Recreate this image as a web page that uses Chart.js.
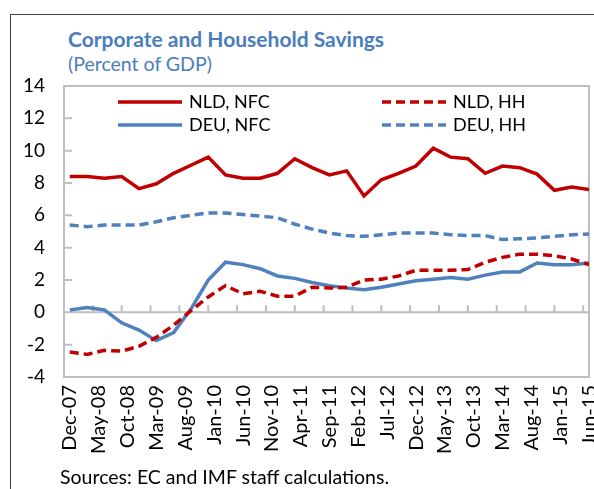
<!DOCTYPE html>
<html lang="en">
<head>
  <meta charset="UTF-8">
  <title>Corporate and Household Savings</title>
  <script src="https://cdn.jsdelivr.net/npm/chart.js"></script>
  <style>
    body { margin: 0; width: 594px; height: 489px; overflow: hidden; background: #fff; font-family: Lato, sans-serif; }
    .frame { position: absolute; left: 10px; top: 14px; width: 620px; height: 520px; border-left: 1px solid #404040; border-top: 1px solid #404040; }
    .title { position: absolute; left: 68px; top: 26px; font-size: 21px; font-weight: bold; color: #4a7ebb; }
    .subtitle { position: absolute; left: 68px; top: 52px; font-size: 19.5px; color: #4a7ebb; }
    .source { position: absolute; left: 60px; top: 465px; font-size: 19.5px; color: #000; }
    #wrap { position: absolute; left: 0; top: 0; width: 594px; height: 489px; }
  </style>
</head>
<body>
  <div class="frame"></div>
  <div class="title">Corporate and Household Savings</div>
  <div class="subtitle">(Percent of GDP)</div>
  <div id="wrap"><canvas id="savings"></canvas></div>
  <div class="source">Sources: EC and IMF staff calculations.</div>
  <script>
    // quarterly observations (end of quarter)
    const quarters = ['Dec-07', 'Mar-08', 'Jun-08', 'Sep-08', 'Dec-08', 'Mar-09', 'Jun-09', 'Sep-09',
      'Dec-09', 'Mar-10', 'Jun-10', 'Sep-10', 'Dec-10', 'Mar-11', 'Jun-11', 'Sep-11', 'Dec-11',
      'Mar-12', 'Jun-12', 'Sep-12', 'Dec-12', 'Mar-13', 'Jun-13', 'Sep-13', 'Dec-13', 'Mar-14',
      'Jun-14', 'Sep-14', 'Dec-14', 'Mar-15', 'Jun-15'];

    const nldNfc = [8.4, 8.4, 8.3, 8.4, 7.65, 7.95, 8.6, 9.1, 9.6, 8.5, 8.3, 8.3, 8.6, 9.5, 8.95, 8.5,
      8.75, 7.2, 8.2, 8.6, 9.05, 10.15, 9.6, 9.5, 8.6, 9.05, 8.95, 8.55, 7.55, 7.75, 7.6];
    const nldHh = [-2.45, -2.6, -2.35, -2.4, -2.1, -1.55, -0.8, 0.1, 0.95, 1.65, 1.15, 1.3, 1.0, 1.0,
      1.55, 1.5, 1.55, 2.0, 2.05, 2.25, 2.6, 2.6, 2.6, 2.65, 3.1, 3.4, 3.6, 3.6, 3.5, 3.3, 2.95];
    const deuNfc = [0.15, 0.3, 0.15, -0.65, -1.1, -1.75, -1.25, 0.2, 2.0, 3.1, 2.95, 2.7, 2.25, 2.1,
      1.85, 1.65, 1.5, 1.4, 1.55, 1.75, 1.95, 2.05, 2.15, 2.05, 2.3, 2.5, 2.5, 3.05, 2.95, 2.95, 3.05];
    const deuHh = [5.4, 5.3, 5.4, 5.4, 5.4, 5.6, 5.85, 6.0, 6.15, 6.15, 6.05, 5.95, 5.85, 5.45, 5.15,
      4.9, 4.75, 4.7, 4.8, 4.9, 4.9, 4.9, 4.8, 4.75, 4.75, 4.5, 4.55, 4.6, 4.7, 4.8, 4.85];

    const tickLabels = ['Dec-07', 'May-08', 'Oct-08', 'Mar-09', 'Aug-09', 'Jan-10', 'Jun-10', 'Nov-10',
      'Apr-11', 'Sep-11', 'Feb-12', 'Jul-12', 'Dec-12', 'May-13', 'Oct-13', 'Mar-14', 'Aug-14',
      'Jan-15', 'Jun-15'];

    const monthNames = ['Jan', 'Feb', 'Mar', 'Apr', 'May', 'Jun', 'Jul', 'Aug', 'Sep', 'Oct', 'Nov', 'Dec'];
    // months counted from Dec-07
    function monthIndex(label) {
      const parts = label.split('-');
      return (Number(parts[1]) - 7) * 12 + monthNames.indexOf(parts[0]) - 11;
    }
    // data sits at the end of its month
    function series(vals) {
      return quarters.map((q, i) => ({ x: monthIndex(q) + 1, y: vals[i] }));
    }

    const red = '#c00000';
    const blue = '#4f81bd';
    const axisGrey = '#bfbfbf';
    const font = { family: 'Lato', size: 18 };

    // plot frame, zero line and small inside ticks
    const framePlugin = {
      id: 'frame',
      beforeDatasetsDraw(chart) {
        const { ctx, chartArea: a, scales } = chart;
        ctx.save();
        ctx.strokeStyle = axisGrey;
        ctx.lineWidth = 2;
        ctx.strokeRect(a.left, a.top, a.right - a.left, a.bottom - a.top);
        const y0 = scales.y.getPixelForValue(0);
        ctx.beginPath();
        ctx.moveTo(a.left, y0);
        ctx.lineTo(a.right, y0);
        scales.x.ticks.forEach(t => {
          const x = scales.x.getPixelForValue(t.value);
          ctx.moveTo(x, y0);
          ctx.lineTo(x, y0 - 7);
        });
        scales.y.ticks.forEach(t => {
          const y = scales.y.getPixelForValue(t.value);
          ctx.moveTo(a.left, y);
          ctx.lineTo(a.left + 8, y);
        });
        ctx.stroke();
        ctx.restore();
      }
    };

    // legend drawn inside the plot, two columns
    const legendPlugin = {
      id: 'insideLegend',
      afterDraw(chart) {
        const { ctx, chartArea: a } = chart;
        ctx.save();
        ctx.font = font.size + 'px ' + font.family;
        ctx.textBaseline = 'middle';
        ctx.fillStyle = '#000';
        chart.data.datasets.forEach((ds, i) => {
          const x = a.left + (i % 2 ? 318 : 54);
          const y = a.top + (i < 2 ? 16 : 39);
          ctx.strokeStyle = ds.borderColor;
          ctx.lineWidth = ds.borderWidth;
          ctx.setLineDash(ds.borderDash || []);
          ctx.beginPath();
          ctx.moveTo(x, y);
          ctx.lineTo(x + 64, y);
          ctx.stroke();
          ctx.setLineDash([]);
          ctx.fillText(ds.label, x + 71, y);
        });
        ctx.restore();
      }
    };

    new Chart(document.getElementById('savings'), {
      type: 'line',
      data: {
        datasets: [
          { label: 'NLD, NFC', data: series(nldNfc), borderColor: red, borderWidth: 3.5 },
          { label: 'NLD, HH', data: series(nldHh), borderColor: red, borderWidth: 3.5, borderDash: [9, 5] },
          { label: 'DEU, NFC', data: series(deuNfc), borderColor: blue, borderWidth: 3.5 },
          { label: 'DEU, HH', data: series(deuHh), borderColor: blue, borderWidth: 3.5, borderDash: [9, 5] }
        ]
      },
      options: {
        responsive: true,
        maintainAspectRatio: false,
        animation: false,
        layout: { padding: { top: 86, right: 5, left: 0, bottom: 0 } },
        elements: { point: { radius: 0 }, line: { tension: 0 } },
        plugins: { legend: { display: false }, tooltip: { enabled: false } },
        scales: {
          x: {
            type: 'linear',
            min: 0,
            max: 91,
            grid: { display: false, drawTicks: false },
            border: { display: false },
            afterBuildTicks: s => { s.ticks = tickLabels.map(l => ({ value: monthIndex(l) })); },
            afterFit: s => { s.height = 112; s.paddingLeft = 0; s.paddingRight = 0; },
            ticks: {
              autoSkip: false, minRotation: 90, maxRotation: 90, padding: 8, labelOffset: 6,
              color: '#000', font: { family: 'Lato', size: 20 },
              callback: (v, i) => tickLabels[i]
            }
          },
          y: {
            min: -4,
            max: 14,
            grid: { display: false, drawTicks: false },
            border: { display: false },
            afterFit: s => { s.width = 64; s.paddingTop = 0; s.paddingBottom = 0; },
            ticks: { stepSize: 2, padding: 19, color: '#000', font: { family: 'Lato', size: 19 } }
          }
        }
      },
      plugins: [framePlugin, legendPlugin]
    });
  </script>
</body>
</html>
